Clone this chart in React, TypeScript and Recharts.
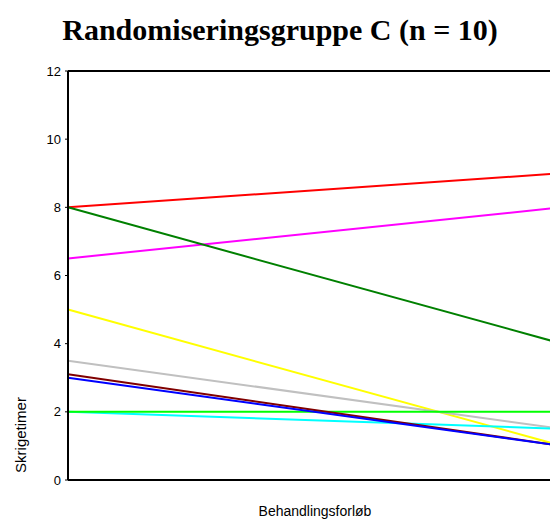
import React from 'react';
import { Line, LineChart, ReferenceLine, XAxis, YAxis } from 'recharts';

// one line per child; start and end of the treatment course
const seriesNames = ['s1', 's2', 's3', 's4', 's5', 's6', 's7', 's8', 's9'];
const seriesColors = [
  '#ff0000',
  '#ff00ff',
  '#008000',
  '#ffff00',
  '#c0c0c0',
  '#00ffff',
  '#00ff00',
  '#800000',
  '#0000ff',
];
const startValues = [8, 6.5, 8, 5, 3.5, 2, 2, 3.1, 3];
const endValues = [9, 8, 4, 1, 1.5, 1.5, 2, 1, 1];
const positions = [0, 1];
const yTicks = [0, 2, 4, 6, 8, 10, 12];

const data = positions.map((pos) => {
  const row: Record<string, number> = { pos };
  seriesNames.forEach((name, i) => {
    row[name] = pos === 0 ? startValues[i] : endValues[i];
  });
  return row;
});

const font = '"Liberation Sans", Arial, sans-serif';

const YLabel = (props: any) => {
  const { viewBox } = props;
  const x = 12;
  const y = viewBox.y + viewBox.height - 45;
  return (
    <text
      x={x}
      y={y}
      transform={`rotate(-90 ${x} ${y})`}
      textAnchor="middle"
      dominantBaseline="central"
      fontSize={15}
      fontFamily={font}
      fill="#000"
    >
      Skrigetimer
    </text>
  );
};

const App: React.FC = () => {
  return (
    <div
      style={{
        position: 'relative',
        width: 550,
        height: 513,
        overflow: 'hidden',
      }}
    >
      <div
        style={{
          position: 'absolute',
          top: 5,
          left: 0,
          width: 544,
          textAlign: 'center',
          fontFamily: '"Liberation Serif", "Times New Roman", serif',
          fontWeight: 'bold',
          fontSize: 30,
          lineHeight: '34px',
          color: '#000',
          whiteSpace: 'nowrap',
        }}
      >
        Randomiseringsgruppe C (n = 10)
      </div>
      <LineChart
        width={556}
        height={513}
        data={data}
        margin={{ top: 63, right: 2, bottom: 0, left: 0 }}
      >
        <XAxis
          dataKey="pos"
          type="number"
          domain={[0, 1]}
          ticks={[0]}
          tick={false}
          tickSize={4}
          height={41}
          axisLine={{ stroke: '#000', strokeWidth: 2 }}
          tickLine={{ stroke: '#000' }}
          label={{
            value: 'Behandlingsforløb',
            position: 'insideBottom',
            offset: 5,
            fontSize: 14,
            fontFamily: font,
            fill: '#000',
          }}
        />
        <YAxis
          type="number"
          domain={[0, 12]}
          ticks={yTicks}
          width={60}
          tickSize={3}
          tickMargin={4}
          interval={0}
          axisLine={{ stroke: '#000', strokeWidth: 2 }}
          tickLine={{ stroke: '#000' }}
          tick={{ fontSize: 13, fontFamily: font, fill: '#000' }}
          label={YLabel}
        />
        <ReferenceLine y={12} stroke="#000" strokeWidth={2} />
        {seriesNames.map((name, i) => (
          <Line
            key={name}
            type="linear"
            dataKey={name}
            stroke={seriesColors[i]}
            strokeWidth={2}
            dot={false}
            activeDot={false}
            isAnimationActive={false}
          />
        ))}
      </LineChart>
    </div>
  );
};

export default App;
